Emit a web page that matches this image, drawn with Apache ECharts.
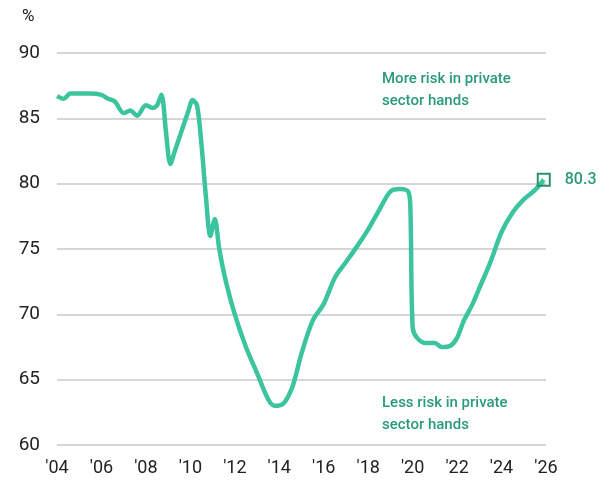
<!DOCTYPE html><html><head><meta charset="utf-8"><script src="https://cdn.jsdelivr.net/npm/echarts@6/dist/echarts.min.js"></script></head><body style="margin:0"><div id="c" style="width:616px;height:490px"></div><script>
const years=[2004.0,2004.3,2004.6,2005,2005.5,2006,2006.3,2006.6,2007,2007.3,2007.6,2008,2008.3,2008.5,2008.7,2008.9,2009.1,2009.3,2009.6,2009.9,2010.1,2010.3,2010.5,2010.7,2010.9,2011.1,2011.3,2011.6,2012,2012.5,2013,2013.5,2013.8,2014.2,2014.6,2015,2015.5,2016,2016.5,2017,2017.5,2018,2018.5,2019,2019.4,2019.8,2019.9,2020.0,2020.2,2020.6,2021,2021.3,2021.7,2022,2022.3,2022.7,2023,2023.5,2024,2024.5,2025,2025.5,2025.9];
const values=[86.7,86.5,86.9,86.9,86.9,86.8,86.5,86.3,85.4,85.6,85.2,86.0,85.8,86.0,86.8,84.0,81.5,82.5,84.0,85.5,86.4,86.0,83,79,76,77.3,75,72.5,70,67.5,65.5,63.5,63,63.2,64.5,67,69.5,70.8,72.8,74,75.2,76.5,78,79.4,79.6,79.4,78,69,68.2,67.8,67.8,67.5,67.6,68.2,69.5,70.8,72,74,76.3,77.8,78.8,79.5,80.3];
const lastLabel='80.3';
const data=years.map((y,i)=>[y,values[i]]);
const c=echarts.init(document.getElementById('c'));
const F='Roboto';
c.setOption({animation:false,
grid:{left:57,right:70,top:53,bottom:45},
xAxis:{type:'value',min:2004,max:2026,interval:2,axisLine:{show:false},axisTick:{show:false},splitLine:{show:false},
 axisLabel:{formatter:v=>"'"+String(v).slice(2),color:'#222',fontSize:18,fontFamily:F,margin:14}},
yAxis:{type:'value',min:60,max:90,interval:5,axisLine:{show:false},axisTick:{show:false},
 splitLine:{lineStyle:{color:'#c8c8c8',width:1.5}},axisLabel:{color:'#222',fontSize:19,fontFamily:F,margin:17}},
graphic:[{type:'text',left:22,top:8,style:{text:'%',fontSize:17,fontFamily:F,fill:'#222'}},
{type:'text',left:382,top:68,style:{text:'More risk in private\nsector hands',fontSize:15,fontFamily:F,fontWeight:500,fill:'#2a9a7a',lineHeight:22}},
{type:'text',left:382,top:392,style:{text:'Less risk in private\nsector hands',fontSize:15,fontFamily:F,fontWeight:500,fill:'#2a9a7a',lineHeight:22}}],
series:[{type:'line',data:data,showSymbol:false,smooth:0.3,lineStyle:{color:'#3cc49f',width:4.5},
 markPoint:{symbol:'rect',symbolSize:12,itemStyle:{color:'rgba(0,0,0,0)',borderColor:'#2a9070',borderWidth:2},
 data:[{coord:data[data.length-1],label:{show:true,position:'right',distance:14,formatter:lastLabel,fontSize:16,fontWeight:500,fontFamily:F,color:'#2a9a7a'}}]}}]});
</script></body></html>
